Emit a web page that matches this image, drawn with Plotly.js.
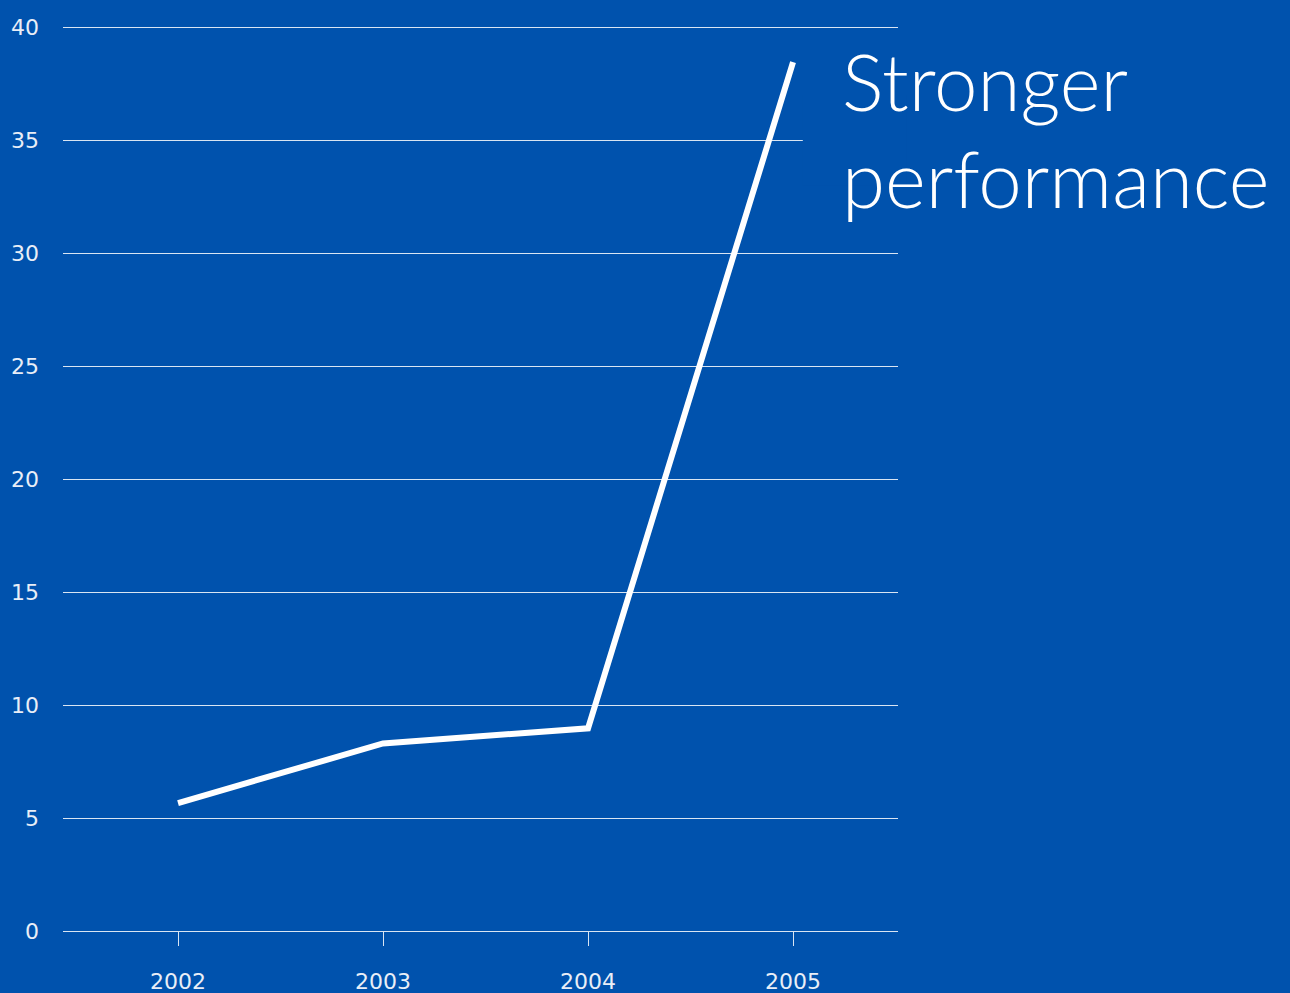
<!DOCTYPE html>
<html>
<head>
<meta charset="utf-8">
<script src="https://cdn.plot.ly/plotly-3.0.1.min.js"></script>
<style>
  html, body { margin: 0; padding: 0; background: #0052ad; }
  #chart { width: 1290px; height: 993px; }
</style>
</head>
<body>
<div id="chart"></div>
<script>
const years = [2002, 2003, 2004, 2005];
const values = [5.66, 8.3, 8.97, 38.45];
const yTicks = [0, 5, 10, 15, 20, 25, 30, 35, 40];
const xTickLabels = ['2002', '2003', '2004', '2005'];
const headlineLines = ['Stronger', 'performance'];

const BLUE = '#0052ad';
const GRID = 'rgba(255,255,255,0.85)';
const TICKFONT = { family: '"DejaVu Sans", sans-serif', size: 22, color: '#e9eef7' };

const trace = {
  x: years,
  y: values,
  type: 'scatter',
  mode: 'lines',
  line: { color: '#ffffff', width: 6 },
  hoverinfo: 'skip',
  cliponaxis: false
};

const layout = {
  width: 1290,
  height: 993,
  paper_bgcolor: BLUE,
  plot_bgcolor: BLUE,
  showlegend: false,
  margin: { l: 63, r: 392, t: 26, b: 62, pad: 0 },
  xaxis: {
    range: [2001.439, 2005.512],
    tickmode: 'array',
    tickvals: years,
    ticktext: xTickLabels,
    ticks: 'outside',
    ticklen: 14,
    tickwidth: 1,
    tickcolor: GRID,
    ticklabelstandoff: 17,
    showgrid: false,
    zeroline: false,
    showline: false,
    tickfont: TICKFONT,
    fixedrange: true
  },
  yaxis: {
    range: [0, 40.05],
    tickmode: 'array',
    tickvals: yTicks,
    ticktext: yTicks.map(String),
    ticks: '',
    showgrid: true,
    gridcolor: GRID,
    gridwidth: 1,
    zeroline: true,
    zerolinecolor: GRID,
    zerolinewidth: 1,
    showline: false,
    ticklabelstandoff: 23,
    tickfont: TICKFONT,
    fixedrange: true
  },
  shapes: [{
    type: 'rect',
    xref: 'paper', yref: 'y',
    x0: 0.886, x1: 1.01, y0: 33, y1: 37,
    fillcolor: BLUE,
    line: { width: 0 },
    layer: 'above'
  }],
  annotations: [
    {
      text: headlineLines[0],
      xref: 'paper', yref: 'paper',
      x: 0.9305, y: 0.939,
      xanchor: 'left', yanchor: 'middle',
      showarrow: false,
      font: { family: 'Lato, sans-serif', size: 78, color: '#ffffff', weight: 300 }
    },
    {
      text: headlineLines[1],
      xref: 'paper', yref: 'paper',
      x: 0.9305, y: 0.832,
      xanchor: 'left', yanchor: 'middle',
      showarrow: false,
      font: { family: 'Lato, sans-serif', size: 78, color: '#ffffff', weight: 300 }
    }
  ]
};

Plotly.newPlot('chart', [trace], layout, { displayModeBar: false, staticPlot: true });
</script>
</body>
</html>
